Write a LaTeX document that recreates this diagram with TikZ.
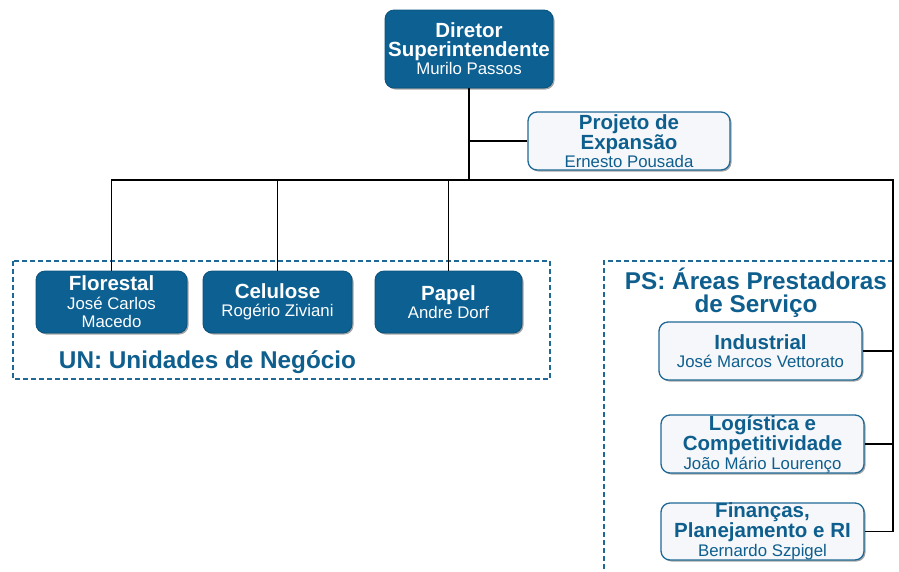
\documentclass[tikz,border=0pt]{standalone}
\usepackage{fontspec}
\setmainfont{Liberation Sans}
\usetikzlibrary{shadows}
\definecolor{dkblue}{RGB}{12,96,146}
\definecolor{txtblue}{RGB}{14,94,142}
\definecolor{lightfill}{RGB}{245,247,250}
\definecolor{bordblue}{RGB}{30,105,150}
\newcommand{\boldT}{\fontsize{20.5}{18.5}\selectfont\bfseries}
\newcommand{\regT}{\fontsize{16.8}{17}\selectfont\mdseries}
\begin{document}
\begin{tikzpicture}[x=1pt,y=-1pt,
  basebox/.style={rounded corners=9pt, align=center, inner sep=0pt, font=\boldT,
    drop shadow={shadow xshift=1.5pt, shadow yshift=-1.5pt, opacity=0.5, fill=black!70}},
  darkbox/.style={basebox, fill=dkblue, draw=dkblue!85!black, line width=0.8pt, text=white},
  lightbox/.style={basebox, fill=lightfill, draw=bordblue, line width=1.3pt, text=txtblue},
  conn/.style={draw=black, line width=1.2pt},
  grp/.style={draw=bordblue, line width=2.3pt, dash pattern=on 5pt off 3pt},
  grplabel/.style={text=txtblue, font=\fontsize{24.3}{23}\selectfont\bfseries, align=center, inner sep=0pt}]
\useasboundingbox (0,0) rectangle (899,571);
% groups
\draw[grp] (13,261) rectangle (550,379);
\draw[grp] (893,261) -- (604,261) -- (604,575);
% nodes
\node[darkbox, minimum width=168pt, minimum height=78pt] (dir) at (469,49) {Diretor\\Superintendente\\\regT Murilo Passos};
\node[lightbox, minimum width=202pt, minimum height=58pt] (proj) at (629,141) {Projeto de\\Expans\~ao\\\regT Ernesto Pousada};
\node[darkbox, minimum width=151pt, minimum height=62pt] (flo) at (111.5,302) {Florestal\\\regT Jos\'e Carlos\\\regT Macedo};
\node[darkbox, minimum width=149pt, minimum height=62pt] (cel) at (277.5,302) {Celulose\\\regT Rog\'erio Ziviani};
\node[darkbox, minimum width=147pt, minimum height=62pt] (pap) at (448.5,302) {Papel\\\regT Andre Dorf};
\node[lightbox, minimum width=203pt, minimum height=58pt] (ind) at (760.5,351) {Industrial\\\regT Jos\'e Marcos Vettorato};
\node[lightbox, minimum width=203pt, minimum height=58pt] (log) at (762.5,444) {Log\'istica e\\Competitividade\\\regT Jo\~ao M\'ario Louren\c{c}o};
\node[lightbox, minimum width=203pt, minimum height=57pt] (fin) at (762.5,531.5) {Finan\c{c}as,\\Planejamento e RI\\\regT Bernardo Szpigel};
\node[grplabel] (unl) at (207.5,362) {UN: Unidades de Neg\'ocio};
\node[grplabel] (psl) at (756,293) {PS: \'Areas Prestadoras\\de Servi\c{c}o};
% connectors
\coordinate (j) at (469,180);
\coordinate (r) at (893,180);
\draw[conn] (dir.south) -- (j);
\draw[conn] (proj.west) -- (proj.west -| j);
\draw[conn] (flo.north) |- (r) -- (r |- fin.east) -- (fin.east);
\draw[conn] (cel.north) -- (cel.north |- r);
\draw[conn] (pap.north) -- (pap.north |- r);
\draw[conn] (ind.east) -- (ind.east -| r);
\draw[conn] (log.east) -- (log.east -| r);
\end{tikzpicture}
\end{document}
